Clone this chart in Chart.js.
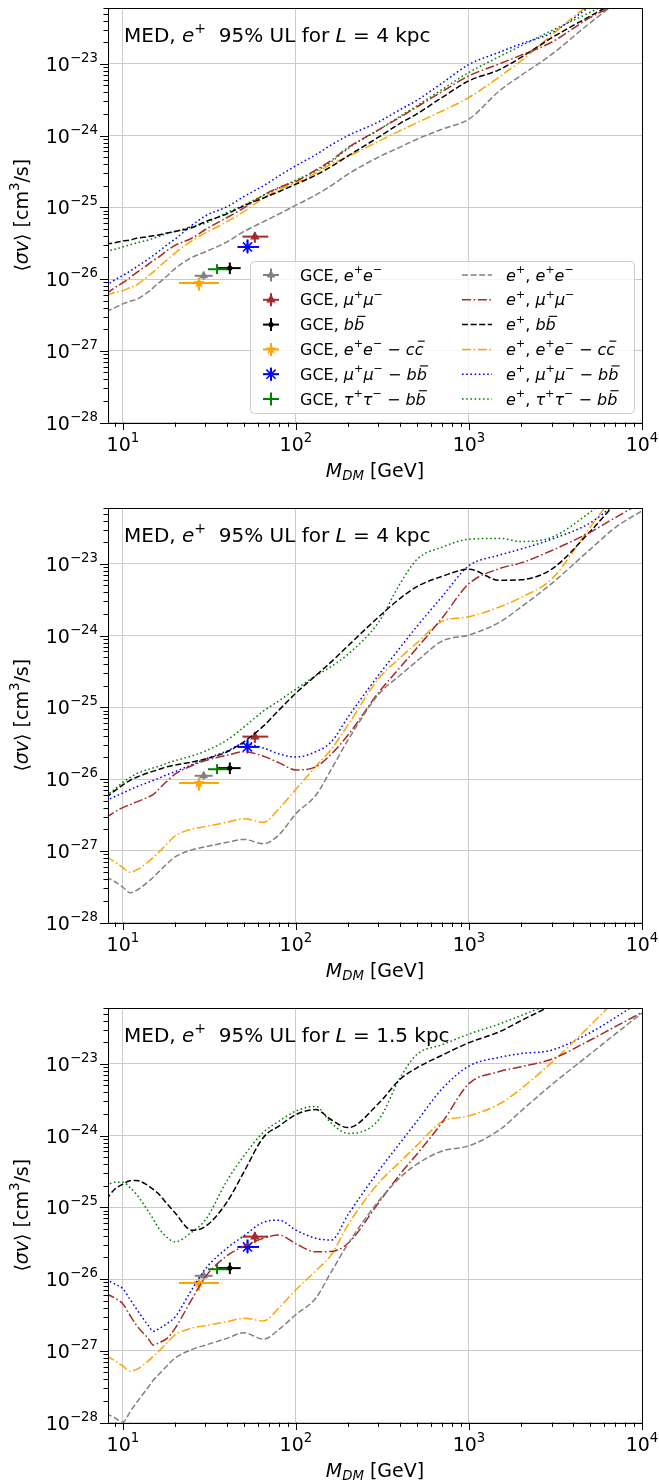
<!DOCTYPE html>
<html>
<head>
<meta charset="utf-8">
<script src="https://cdn.jsdelivr.net/npm/chart.js@4.4.1/dist/chart.umd.min.js"></script>
<style>
  html, body { margin: 0; padding: 0; background: #fff; }
  canvas { display: block; }
</style>
</head>
<body>
<canvas id="panel1" width="659" height="500"></canvas>
<canvas id="panel2" width="659" height="500"></canvas>
<canvas id="panel3" width="659" height="484"></canvas>
<script>
/* =========================
   DATA
========================= */

// dark matter mass grid [GeV]
const masses = [8, 9, 10, 11, 12, 14, 15, 16, 18, 20, 25, 30, 40, 50, 65, 80, 100, 130, 160, 200,
                300, 400, 500, 700, 1000, 1500, 2000, 3000, 5000, 7000, 10000];

// panel 1: L = 4 kpc (upper)
const p1EE = [3.5e-27, 4.0e-27, 4.5e-27, 4.9e-27, 5.2e-27, 6.6e-27, 7.6e-27, 8.7e-27, 1.1e-26, 1.4e-26, 2.0e-26, 2.4e-26, 3.3e-26, 4.6e-26, 6.3e-26, 8.1e-26, 1.07e-25, 1.48e-25, 2.0e-25, 2.9e-25, 5.0e-25, 6.9e-25, 8.9e-25, 1.23e-24, 1.7e-24, 4.2e-24, 6.9e-24, 1.35e-23, 3.7e-23, 6.8e-23, 1.1e-22];
const p1MuMu = [6.2e-27, 7.6e-27, 8.9e-27, 1.05e-26, 1.23e-26, 1.6e-26, 1.82e-26, 2.0e-26, 2.5e-26, 2.95e-26, 3.7e-26, 4.9e-26, 7.2e-26, 9.8e-26, 1.48e-25, 1.9e-25, 2.3e-25, 3.3e-25, 4.5e-25, 6.8e-25, 1.2e-24, 1.8e-24, 2.5e-24, 4.1e-24, 6.8e-24, 1.0e-23, 1.32e-23, 2.0e-23, 4.4e-23, 6.6e-23, 1.0e-22];
const p1BB = [3.1e-26, 3.2e-26, 3.4e-26, 3.5e-26, 3.7e-26, 3.9e-26, 4.0e-26, 4.1e-26, 4.4e-26, 4.6e-26, 5.2e-26, 6.3e-26, 8.1e-26, 1.05e-25, 1.35e-25, 1.66e-25, 2.1e-25, 2.8e-25, 3.7e-25, 5.2e-25, 9.5e-25, 1.48e-24, 2.0e-24, 3.4e-24, 5.8e-24, 8.3e-24, 1.23e-23, 2.3e-23, 4.6e-23, 7.1e-23, 1.0e-22];
const p1EECC = [5.9e-27, 6.5e-27, 6.9e-27, 7.6e-27, 8.3e-27, 1.1e-26, 1.26e-26, 1.45e-26, 1.86e-26, 2.3e-26, 3.4e-26, 4.4e-26, 6.3e-26, 8.7e-26, 1.35e-25, 1.78e-25, 2.2e-25, 3.0e-25, 4.0e-25, 5.1e-25, 8.3e-25, 1.17e-24, 1.51e-24, 2.2e-24, 3.4e-24, 6.6e-24, 1.1e-23, 2.5e-23, 6.8e-23, 1.1e-22, 1.6e-22];
const p1MuMuBB = [8.1e-27, 9.8e-27, 1.12e-26, 1.29e-26, 1.48e-26, 1.9e-26, 2.14e-26, 2.4e-26, 3.0e-26, 3.6e-26, 5.6e-26, 7.6e-26, 1.02e-25, 1.41e-25, 2.0e-25, 2.75e-25, 3.8e-25, 5.4e-25, 7.4e-25, 1.0e-24, 1.55e-24, 2.3e-24, 3.1e-24, 5.4e-24, 9.8e-24, 1.45e-23, 1.9e-23, 2.7e-23, 6.3e-23, 1.1e-22, 1.6e-22];
const p1TauTauBB = [2.45e-26, 2.6e-26, 2.8e-26, 3.0e-26, 3.2e-26, 3.5e-26, 3.7e-26, 3.9e-26, 4.3e-26, 4.6e-26, 5.4e-26, 6.0e-26, 8.5e-26, 1.07e-25, 1.48e-25, 1.86e-25, 2.4e-25, 3.2e-25, 4.3e-25, 6.6e-25, 1.2e-24, 1.86e-24, 2.6e-24, 4.4e-24, 7.6e-24, 1.26e-23, 1.78e-23, 2.9e-23, 5.2e-23, 7.9e-23, 1.26e-22];

// panel 2: L = 4 kpc (middle)
const p2EE = [4.3e-28, 3.7e-28, 3.1e-28, 2.6e-28, 2.8e-28, 3.7e-28, 4.3e-28, 5.0e-28, 6.6e-28, 8.2e-28, 1.03e-27, 1.14e-27, 1.31e-27, 1.44e-27, 1.25e-27, 1.68e-27, 3.3e-27, 5.9e-27, 1.36e-26, 3.5e-26, 1.51e-25, 2.8e-25, 4.4e-25, 8.4e-25, 1.02e-24, 1.53e-24, 2.5e-24, 5.3e-24, 1.58e-23, 3.2e-23, 5.5e-23];
const p2MuMu = [2.9e-27, 3.5e-27, 4.0e-27, 4.4e-27, 4.8e-27, 5.6e-27, 6.1e-27, 7.1e-27, 9.4e-27, 1.17e-26, 1.53e-26, 1.81e-26, 2.15e-26, 2.4e-26, 2.08e-26, 1.68e-26, 1.34e-26, 1.48e-26, 2.23e-26, 4.1e-26, 1.6e-25, 3.6e-25, 6.7e-25, 1.76e-24, 5.3e-24, 8.6e-24, 1.03e-23, 1.53e-23, 2.75e-23, 4.4e-23, 7.2e-23];
const p2BB = [5.5e-27, 6.9e-27, 8.3e-27, 9.6e-27, 1.06e-26, 1.22e-26, 1.29e-26, 1.35e-26, 1.48e-26, 1.56e-26, 1.72e-26, 1.9e-26, 2.4e-26, 3.3e-26, 5.5e-26, 9.2e-26, 1.58e-25, 2.76e-25, 4.3e-25, 7.2e-25, 1.81e-24, 3.3e-24, 4.8e-24, 6.7e-24, 8.4e-24, 5.9e-24, 6.0e-24, 8.4e-24, 2.8e-23, 6.8e-23, 1.6e-22];
const p2EECC = [8.3e-28, 7.0e-28, 5.8e-28, 5.0e-28, 5.4e-28, 7.0e-28, 8.1e-28, 9.4e-28, 1.25e-27, 1.61e-27, 2.0e-27, 2.17e-27, 2.5e-27, 2.8e-27, 2.5e-27, 3.9e-27, 7.2e-27, 1.49e-26, 2.6e-26, 5.7e-26, 2.5e-25, 4.9e-25, 7.9e-25, 1.58e-24, 1.83e-24, 2.5e-24, 3.4e-24, 6.1e-24, 3.2e-23, 9.3e-23, 2.5e-22];
const p2MuMuBB = [5.0e-27, 5.7e-27, 6.4e-27, 7.1e-27, 7.8e-27, 9.0e-27, 9.6e-27, 1.02e-26, 1.15e-26, 1.27e-26, 1.58e-26, 1.9e-26, 2.46e-26, 3.1e-26, 2.7e-26, 2.24e-26, 2.03e-26, 2.4e-26, 3.3e-26, 7.3e-26, 2.8e-25, 6.8e-25, 1.34e-24, 3.5e-24, 9.4e-24, 1.32e-23, 1.61e-23, 2.2e-23, 3.7e-23, 6.8e-23, 1.26e-22];
const p2TauTauBB = [5.8e-27, 7.3e-27, 9.0e-27, 1.05e-26, 1.19e-26, 1.36e-26, 1.43e-26, 1.5e-26, 1.66e-26, 1.8e-26, 2.1e-26, 2.46e-26, 3.5e-26, 5.3e-26, 8.9e-26, 1.24e-25, 1.79e-25, 2.75e-25, 3.7e-25, 5.5e-25, 1.53e-24, 5.3e-24, 1.15e-23, 1.71e-23, 2.2e-23, 2.26e-23, 2.05e-23, 2.34e-23, 5.2e-23, 1.0e-22, 2.0e-22];

// panel 3: L = 1.5 kpc
const p3EE = [1.34e-28, 1.16e-28, 1.01e-28, 1.41e-28, 1.9e-28, 3.1e-28, 3.9e-28, 4.6e-28, 6.2e-28, 7.9e-28, 1.04e-27, 1.2e-27, 1.49e-27, 1.78e-27, 1.45e-27, 2.0e-27, 3.2e-27, 5.4e-27, 1.26e-26, 3.1e-26, 1.22e-25, 2.6e-25, 4.0e-25, 6.1e-25, 7.2e-25, 1.2e-24, 2.2e-24, 5.1e-24, 1.36e-23, 2.6e-23, 5.1e-23];
const p3MuMu = [6.3e-27, 5.4e-27, 4.5e-27, 3.1e-27, 2.25e-27, 1.48e-27, 1.2e-27, 1.28e-27, 1.49e-27, 2.05e-27, 5.2e-27, 1.08e-26, 2.12e-26, 2.86e-26, 3.7e-26, 4.1e-26, 3.1e-26, 2.4e-26, 2.42e-26, 3.15e-26, 1.15e-25, 2.9e-25, 5.5e-25, 1.52e-24, 5.3e-24, 7.8e-24, 9.1e-24, 1.16e-23, 2.13e-23, 3.3e-23, 5.2e-23];
const p3BB = [1.29e-25, 1.8e-25, 2.1e-25, 2.35e-25, 2.36e-25, 2.0e-25, 1.77e-25, 1.56e-25, 1.12e-25, 8.4e-26, 4.8e-26, 5.4e-26, 1.19e-25, 3.1e-25, 9.5e-25, 1.36e-24, 1.96e-24, 2.3e-24, 1.66e-24, 1.29e-24, 2.8e-24, 6.1e-24, 8.8e-24, 1.32e-23, 1.97e-23, 2.8e-23, 4.0e-23, 6.5e-23, 1.23e-22, 1.78e-22, 2.5e-22];
const p3EECC = [8.6e-28, 7.2e-28, 6.1e-28, 5.2e-28, 5.5e-28, 7.2e-28, 8.4e-28, 9.7e-28, 1.29e-27, 1.66e-27, 2.07e-27, 2.24e-27, 2.55e-27, 2.84e-27, 2.6e-27, 4.0e-27, 7.1e-27, 1.3e-26, 2.17e-26, 5.7e-26, 2.17e-25, 4.3e-25, 7.3e-25, 1.56e-24, 1.88e-24, 2.76e-24, 4.5e-24, 1.04e-23, 3.4e-23, 7.7e-23, 2.0e-22];
const p3MuMuBB = [9.8e-27, 8.5e-27, 7.3e-27, 5.2e-27, 3.8e-27, 2.26e-27, 1.87e-27, 2.0e-27, 2.4e-27, 2.95e-27, 7.1e-27, 1.39e-26, 2.7e-26, 4.0e-26, 6.2e-26, 6.6e-26, 4.8e-26, 3.7e-26, 3.5e-26, 7.9e-26, 3.2e-25, 7.9e-25, 1.58e-24, 4.5e-24, 9.3e-24, 1.23e-23, 1.39e-23, 1.55e-23, 2.7e-23, 4.4e-23, 7.7e-23];
const p3TauTauBB = [2.0e-25, 2.24e-25, 2.24e-25, 1.88e-25, 1.51e-25, 8.8e-26, 6.8e-26, 5.2e-26, 3.8e-26, 3.3e-26, 4.5e-26, 6.7e-26, 2.36e-25, 5.2e-25, 1.12e-24, 1.59e-24, 2.2e-24, 2.55e-24, 1.49e-24, 1.07e-24, 1.65e-24, 6.4e-24, 1.35e-23, 1.85e-23, 2.6e-23, 3.6e-23, 4.7e-23, 7.0e-23, 1.26e-22, 1.78e-22, 2.5e-22];

// GCE best fits: e+e-, mu+mu-, bb, e+e- - cc, mu+mu- - bb, tau+tau- - bb
const gceMass   = [29.3, 57.9, 41.5, 27.5, 52.5, 35.0];
const gceMassLo = [26.0, 49.1, 35.5, 21.1, 45.9, 31.0];
const gceMassHi = [33.0, 69.2, 47.9, 35.9, 61.2, 41.1];
const gceSigma   = [1.11e-26, 3.9e-26, 1.42e-26, 8.8e-27, 2.8e-26, 1.37e-26];
const gceSigmaLo = [9.8e-27, 3.2e-26, 1.17e-26, 6.9e-27, 2.34e-26, 1.17e-26];
const gceSigmaHi = [1.26e-26, 4.5e-26, 1.7e-26, 1.05e-26, 3.56e-26, 1.61e-26];

// axes
const xMin = 8.2, xMax = 1e4;
const yMin = 1e-28, yMax = 6e-23;
const xTickValues = [10, 100, 1000, 10000];
const xTickExps = ["1", "2", "3", "4"];
const yTickValues = [1e-28, 1e-27, 1e-26, 1e-25, 1e-24, 1e-23];
const yTickExps = ["\u221228", "\u221227", "\u221226", "\u221225", "\u221224", "\u221223"];
const panelDistances = ["4", "4", "1.5"];

// legend texts: [text, style]  n normal, i italic, ^ superscript, _ subscript, - overbar
const gceLabels = [
  [["GCE, ", "n"], ["e", "i"], ["+", "^"], ["e", "i"], ["\u2212", "^"]],
  [["GCE, ", "n"], ["\u03bc", "i"], ["+", "^"], ["\u03bc", "i"], ["\u2212", "^"]],
  [["GCE, ", "n"], ["b", "i"], ["b", "i-"]],
  [["GCE, ", "n"], ["e", "i"], ["+", "^"], ["e", "i"], ["\u2212", "^"], [" \u2212 ", "n"], ["c", "i"], ["c", "i-"]],
  [["GCE, ", "n"], ["\u03bc", "i"], ["+", "^"], ["\u03bc", "i"], ["\u2212", "^"], [" \u2212 ", "n"], ["b", "i"], ["b", "i-"]],
  [["GCE, ", "n"], ["\u03c4", "i"], ["+", "^"], ["\u03c4", "i"], ["\u2212", "^"], [" \u2212 ", "n"], ["b", "i"], ["b", "i-"]],
];
const curveLabels = gceLabels.map(parts =>
  [["e", "i"], ["+", "^"], [", ", "n"]].concat(parts.slice(1)));

/* =========================
   STYLE
========================= */

const FONT = "'DejaVu Sans', sans-serif";
const GRID = "#cbcbcb";
const curveStyles = [
  { color: "#808080", dash: [6, 2.6] },
  { color: "#a52a2a", dash: [9, 2.6, 1.6, 2.6] },
  { color: "#000000", dash: [6, 2.6] },
  { color: "#ffa500", dash: [9, 2.6, 1.6, 2.6] },
  { color: "#0000ff", dash: [1.6, 2.6] },
  { color: "#008000", dash: [1.6, 2.6] },
];

function starImage(color, r) {
  const c = document.createElement("canvas");
  c.width = c.height = Math.ceil(r * 2 + 2);
  const g = c.getContext("2d");
  const m = c.width / 2;
  g.beginPath();
  for (let k = 0; k < 10; k++) {
    const rad = k % 2 ? r * 0.42 : r;
    const a = -Math.PI / 2 + k * Math.PI / 5;
    g.lineTo(m + rad * Math.cos(a), m + rad * Math.sin(a));
  }
  g.closePath();
  g.fillStyle = color;
  g.fill();
  return c;
}

const gceMarkers = [
  { style: "triangle", radius: 5, border: 0 },
  { style: "triangle", radius: 5.5, border: 0 },
  { style: "circle", radius: 2.6, border: 0 },
  { style: starImage("#ffa500", 6), radius: 6, border: 0 },
  { style: "star", radius: 6.5, border: 1.5 },
  { style: "circle", radius: 0, border: 0 },
];

/* =========================
   TEXT HELPERS
========================= */

function drawRich(ctx, parts, x, y, size, align) {
  let total = 0;
  const items = parts.map(([t, s]) => {
    const small = s.includes("^") || s.includes("_");
    const fs = small ? size * 0.7 : size;
    const font = (s.includes("i") ? "italic " : "") + fs + "px " + FONT;
    ctx.font = font;
    const w = ctx.measureText(t).width;
    total += w;
    const dy = s.includes("^") ? -size * 0.47 : s.includes("_") ? size * 0.2 : 0;
    return { t, font, w, dy, fs, bar: s.includes("-") };
  });
  let cx = align === "center" ? x - total / 2 : align === "right" ? x - total : x;
  ctx.textAlign = "left";
  ctx.textBaseline = "alphabetic";
  for (const it of items) {
    ctx.font = it.font;
    ctx.fillText(it.t, cx, y + it.dy);
    if (it.bar) {
      const by = y - it.fs * 0.86;
      ctx.save();
      ctx.lineWidth = Math.max(1, it.fs * 0.07);
      ctx.strokeStyle = ctx.fillStyle;
      ctx.beginPath();
      ctx.moveTo(cx + it.fs * 0.2, by);
      ctx.lineTo(cx + it.w + it.fs * 0.08, by);
      ctx.stroke();
      ctx.restore();
    }
    cx += it.w;
  }
  return total;
}

function line(ctx, x1, y1, x2, y2) {
  ctx.beginPath();
  ctx.moveTo(x1, y1);
  ctx.lineTo(x2, y2);
  ctx.stroke();
}

/* =========================
   PLUGIN: frame, ticks, labels, error bars, legend
========================= */

const framePlugin = {
  id: "frame",

  beforeDatasetsDraw(chart) {
    const { ctx, scales: { x, y } } = chart;
    ctx.save();
    ctx.lineWidth = 2;
    gceMass.forEach((m, i) => {
      ctx.strokeStyle = curveStyles[i].color;
      const px = x.getPixelForValue(m);
      const py = y.getPixelForValue(gceSigma[i]);
      line(ctx, x.getPixelForValue(gceMassLo[i]), py, x.getPixelForValue(gceMassHi[i]), py);
      line(ctx, px, y.getPixelForValue(gceSigmaLo[i]), px, y.getPixelForValue(gceSigmaHi[i]));
    });
    ctx.restore();
  },

  afterDraw(chart, args, opts) {
    const { ctx, chartArea: a, scales: { x, y } } = chart;
    ctx.save();
    ctx.strokeStyle = "#000";
    ctx.fillStyle = "#000";
    ctx.lineWidth = 1;
    ctx.strokeRect(Math.round(a.left) + 0.5, Math.round(a.top) + 0.5,
                   Math.round(a.right - a.left), Math.round(a.bottom - a.top));

    // y ticks (major + minor)
    for (let e = -29; e <= -22; e++) {
      for (let k = 1; k <= 9; k++) {
        const v = k * Math.pow(10, e);
        if (v < yMin * 0.999 || v > yMax * 1.001) continue;
        const py = Math.round(y.getPixelForValue(v)) + 0.5;
        line(ctx, a.left - (k === 1 ? 8 : 4.5), py, a.left, py);
      }
    }
    // x ticks
    for (let e = 0; e <= 4; e++) {
      for (let k = 1; k <= 9; k++) {
        const v = k * Math.pow(10, e);
        if (v < xMin * 0.999 || v > xMax * 1.001) continue;
        const px = Math.round(x.getPixelForValue(v)) + 0.5;
        line(ctx, px, a.bottom, px, a.bottom + (k === 1 ? 7.5 : 4.5));
      }
    }

    // tick labels
    const TS = 19;
    yTickValues.forEach((v, i) => {
      const py = y.getPixelForValue(v);
      drawRich(ctx, [["10", "n"], [yTickExps[i], "^"]], a.left - 10, py + 7, TS, "right");
    });
    xTickValues.forEach((v, i) => {
      const px = x.getPixelForValue(v);
      drawRich(ctx, [["10", "n"], [xTickExps[i], "^"]], px, a.bottom + 28.5, TS, "center");
    });

    // axis labels
    drawRich(ctx, [["M", "i"], ["DM", "i_"], [" [GeV]", "n"]], (a.left + a.right) / 2, a.bottom + 54, TS, "center");
    ctx.save();
    ctx.translate(28, (a.top + a.bottom) / 2);
    ctx.rotate(-Math.PI / 2);
    drawRich(ctx, [["\u27e8", "n"], ["\u03c3v", "i"], ["\u27e9", "n"], [" [cm", "n"], ["3", "^"], ["/s]", "n"]], 0, 0, TS, "center");
    ctx.restore();

    // panel title
    drawRich(ctx, [["MED, ", "n"], ["e", "i"], ["+", "^"], ["  95% UL for ", "n"], ["L", "i"], [" = ", "n"], [opts.distance + " kpc", "n"]],
             a.left + 16, a.top + 34, 20, "left");

    if (opts.legend) drawLegend(ctx);
    ctx.restore();
  },
};

function drawLegend(ctx) {
  const box = { x: 250.5, y: 261.5, w: 384, h: 152 };
  ctx.save();
  ctx.beginPath();
  ctx.roundRect(box.x, box.y, box.w, box.h, 4);
  ctx.fillStyle = "rgba(255,255,255,0.8)";
  ctx.fill();
  ctx.strokeStyle = "#cccccc";
  ctx.lineWidth = 1;
  ctx.stroke();

  const rowY = i => 275 + i * 24.8;
  gceLabels.forEach((parts, i) => {
    const cy = rowY(i);
    const col = curveStyles[i].color;
    // errorbar handle
    ctx.strokeStyle = col;
    ctx.fillStyle = col;
    ctx.lineWidth = 2;
    ctx.setLineDash([]);
    line(ctx, 263, cy, 279, cy);
    line(ctx, 271, cy - 6.5, 271, cy + 6.5);
    const mk = gceMarkers[i];
    if (mk.radius > 0) {
      ctx.lineWidth = mk.border || 1;
      Chart.helpers.drawPoint(ctx, { pointStyle: mk.style, radius: mk.radius, borderWidth: mk.border, rotation: 0 }, 271, cy);
    }
    ctx.fillStyle = "#000";
    drawRich(ctx, parts, 300, cy + 5.5, 16, "left");

    // line handle
    ctx.strokeStyle = col;
    ctx.lineWidth = 1.5;
    ctx.setLineDash(curveStyles[i].dash);
    line(ctx, 462, cy, 492, cy);
    ctx.setLineDash([]);
    ctx.fillStyle = "#000";
    drawRich(ctx, curveLabels[i], 506, cy + 5.5, 16, "left");
  });
  ctx.restore();
}

/* =========================
   CHARTS
========================= */

function makePanel(canvasId, curves, distance, withLegend) {
  const canvas = document.getElementById(canvasId);
  const H = canvas.height;

  const datasets = curves.map((vals, i) => ({
    type: "line",
    data: masses.map((m, j) => ({ x: m, y: vals[j] })),
    borderColor: curveStyles[i].color,
    borderWidth: 1.5,
    borderDash: curveStyles[i].dash,
    pointRadius: 0,
    fill: false,
    cubicInterpolationMode: "monotone",
  }));

  gceMass.forEach((m, i) => datasets.push({
    type: "scatter",
    data: [{ x: m, y: gceSigma[i] }],
    pointStyle: gceMarkers[i].style,
    pointRadius: gceMarkers[i].radius,
    borderWidth: gceMarkers[i].border,
    backgroundColor: curveStyles[i].color,
    borderColor: curveStyles[i].color,
  }));

  return new Chart(canvas, {
    type: "line",
    data: { datasets },
    options: {
      responsive: false,
      animation: false,
      devicePixelRatio: 1,
      events: [],
      layout: { padding: { top: 4, right: 17, bottom: 0, left: 0 } },
      plugins: {
        legend: { display: false },
        tooltip: { enabled: false },
        frame: { distance, legend: withLegend },
      },
      scales: {
        x: {
          type: "logarithmic",
          bounds: "data",
          min: xMin,
          max: xMax,
          afterBuildTicks: s => { s.ticks = xTickValues.map(v => ({ value: v })); },
          afterFit: s => { s.height = H - 422.5; },
          ticks: { display: false },
          grid: { color: GRID, lineWidth: 1, drawTicks: false },
          border: { display: false },
        },
        y: {
          type: "logarithmic",
          bounds: "data",
          min: yMin,
          max: yMax,
          afterBuildTicks: s => { s.ticks = yTickValues.map(v => ({ value: v })); },
          afterFit: s => { s.width = 108; },
          ticks: { display: false },
          grid: { color: GRID, lineWidth: 1, drawTicks: false },
          border: { display: false },
        },
      },
    },
    plugins: [framePlugin],
  });
}

makePanel("panel1", [p1EE, p1MuMu, p1BB, p1EECC, p1MuMuBB, p1TauTauBB], panelDistances[0], true);
makePanel("panel2", [p2EE, p2MuMu, p2BB, p2EECC, p2MuMuBB, p2TauTauBB], panelDistances[1], false);
makePanel("panel3", [p3EE, p3MuMu, p3BB, p3EECC, p3MuMuBB, p3TauTauBB], panelDistances[2], false);
</script>
</body>
</html>
